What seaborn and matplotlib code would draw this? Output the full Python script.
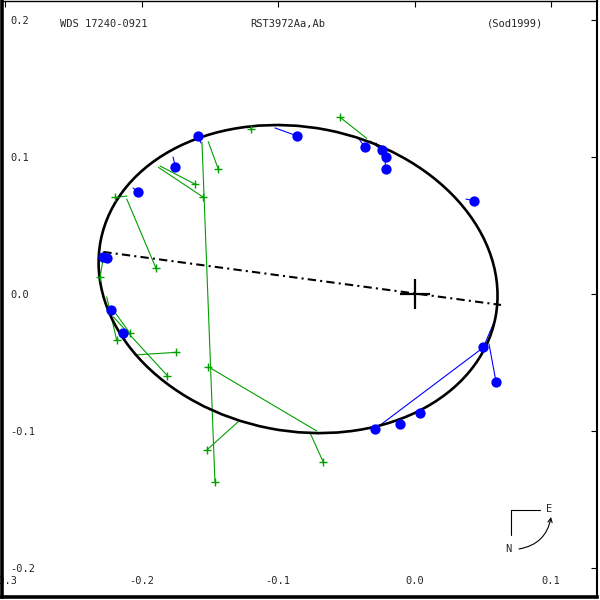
import numpy as np
import pandas as pd
import matplotlib
matplotlib.use("Agg")
import matplotlib.pyplot as plt
from matplotlib.patches import Ellipse
import seaborn as sns

# ---------------- data ----------------
xticks = [-0.3, -0.2, -0.1, 0.0, 0.1]
xtick_labels = ["-0.3", "-0.2", "-0.1", "0.0", "0.1"]
yticks = [-0.2, -0.1, 0.0, 0.1, 0.2]
ytick_labels = ["-0.2", "-0.1", "0.0", "0.1", "0.2"]

# apparent orbit (ellipse) parameters
orbit_center = (-0.0853, 0.0109)
orbit_axes = (0.1473, 0.1109)     # semi-major, semi-minor
orbit_angle = -11.0               # degrees

# line of nodes end points
nodes_x = [-0.2280, 0.0634]
nodes_y = [0.0307, -0.0080]

# blue (micrometric/interferometric) observations and their computed positions
blue_obs_x = [-0.0863, -0.1588, -0.1752, -0.2028, -0.2280, -0.2255, -0.2223, -0.2139,
              -0.0363, -0.0240, -0.0211, -0.0211, 0.0436, 0.0504, 0.0597, 0.0040,
              -0.0106, -0.0289]
blue_obs_y = [0.1155, 0.1153, 0.0929, 0.0747, 0.0272, 0.0261, -0.0117, -0.0287,
              0.1071, 0.1051, 0.0998, 0.0912, 0.0681, -0.0389, -0.0640, -0.0871,
              -0.0951, -0.0985]
blue_fit_x = [-0.1022, -0.1564, -0.1769, -0.2062, -0.2289, -0.2289, -0.2238, -0.2106,
              -0.0414, -0.0326, -0.0282, -0.0223, 0.0377, 0.0590, 0.0546, 0.0055,
              -0.0121, 0.0509]
blue_fit_y = [0.1212, 0.1102, 0.1000, 0.0774, 0.0263, 0.0234, -0.0102, -0.0372,
              0.1142, 0.1117, 0.1102, 0.1073, 0.0693, -0.0190, -0.0365, -0.0839,
              -0.0912, -0.0387]

# green (visual) observations and their computed positions
green_obs_x = [-0.2194, -0.1894, -0.2304, -0.2182, -0.2084, -0.1811, -0.1749, -0.1511,
               -0.0668, -0.1522, -0.1462, -0.1437, -0.1610, -0.1547, -0.0546, -0.1200]
green_obs_y = [0.0706, 0.0188, 0.0124, -0.0336, -0.0287, -0.0596, -0.0426, -0.0531,
               -0.1228, -0.1139, -0.1370, 0.0910, 0.0803, 0.0706, 0.1290, 0.1202]
green_fit_x = [-0.2106, -0.2108, -0.2282, -0.2255, -0.2207, -0.2207, -0.2048, -0.0716,
               -0.0766, -0.1291, -0.1557, -0.1511, -0.1864, -0.1877, -0.0350, -0.1198]
green_fit_y = [0.0715, 0.0693, 0.0248, -0.0020, -0.0117, -0.0166, -0.0445, -0.1000,
               -0.1012, -0.0932, 0.1109, 0.1112, 0.0934, 0.0925, 0.1136, 0.1212]

title_left = "WDS 17240-0921"
title_mid = "RST3972Aa,Ab"
title_right = "(Sod1999)"

BLUE = "#0000ff"
GREEN = "#00a000"

# ---------------- figure ----------------
sns.set_style("white")
plt.rcParams["font.family"] = ["DejaVu Sans Mono", "DejaVu Sans"]
plt.rcParams["font.size"] = 7.5
plt.rcParams["lines.scale_dashes"] = False

fig = plt.figure(figsize=(6, 6), dpi=100)
ax = fig.add_axes([2 / 600, 3 / 600, 595 / 600, 596.5 / 600])
ax.set_xlim(-0.30220, 0.13370)
ax.set_ylim(-0.22117, 0.21423)

# residual lines
for ox, oy, fx, fy in zip(green_obs_x, green_obs_y, green_fit_x, green_fit_y):
    ax.plot([ox, fx], [oy, fy], color=GREEN, lw=0.8, zorder=2)
for ox, oy, fx, fy in zip(blue_obs_x, blue_obs_y, blue_fit_x, blue_fit_y):
    ax.plot([ox, fx], [oy, fy], color=BLUE, lw=0.8, zorder=2)

# orbit
ell = Ellipse(orbit_center, 2 * orbit_axes[0], 2 * orbit_axes[1], angle=orbit_angle,
              fill=False, edgecolor="black", lw=1.9, zorder=3)
ax.add_patch(ell)

# line of nodes
ax.plot(nodes_x, nodes_y, color="black", lw=1.5, dashes=[6, 3, 1.5, 3], zorder=3)

# primary
ax.plot([0.0], [0.0], marker="+", color="black", markersize=22, mew=1.6, zorder=4)

# observations
green_df = pd.DataFrame({"x": green_obs_x, "y": green_obs_y})
blue_df = pd.DataFrame({"x": blue_obs_x, "y": blue_obs_y})
sns.scatterplot(data=green_df, x="x", y="y", marker="+", s=40, color=GREEN,
                linewidth=1.0, ax=ax, zorder=5)
sns.scatterplot(data=blue_df, x="x", y="y", marker="o", s=55, color=BLUE,
                edgecolor=BLUE, linewidth=0, ax=ax, zorder=6)

ax.set_xlabel("")
ax.set_ylabel("")

# ticks
ax.set_xticks(xticks)
ax.set_xticklabels(xtick_labels)
ax.set_yticks(yticks)
ax.set_yticklabels(ytick_labels)
ax.tick_params(axis="both", direction="in", length=4, width=0.8, color="black",
               top=True, right=True, labelsize=7.5)
ax.tick_params(axis="x", pad=-15)
ax.tick_params(axis="y", pad=-6)
for lab in ax.get_yticklabels():
    lab.set_horizontalalignment("left")

for side, lw in (("left", 2.6), ("bottom", 2.6), ("right", 1.5), ("top", 1.0)):
    ax.spines[side].set_visible(True)
    ax.spines[side].set_linewidth(lw)
    ax.spines[side].set_color("black")

# header texts (figure pixels)
fig.text(60 / 600, 1 - 24 / 600, title_left, ha="left", va="center", fontsize=7.5)
fig.text(250 / 600, 1 - 24 / 600, title_mid, ha="left", va="center", fontsize=7.5)
fig.text(487 / 600, 1 - 24 / 600, title_right, ha="left", va="center", fontsize=7.5)

# compass
H = 600
fig.add_artist(plt.Line2D([511 / 600, 540 / 600], [1 - 510 / H, 1 - 510 / H],
                          color="black", lw=0.8, transform=fig.transFigure))
fig.add_artist(plt.Line2D([511 / 600, 511 / 600], [1 - 510 / H, 1 - 535 / H],
                          color="black", lw=0.8, transform=fig.transFigure))
fig.text(549 / 600, 1 - 509 / H, "E", ha="center", va="center", fontsize=7.5)
fig.text(508 / 600, 1 - 549 / H, "N", ha="center", va="center", fontsize=7.5)
ax.annotate("", xy=(551, H - 517), xycoords="figure pixels",
            xytext=(519, H - 549), textcoords="figure pixels",
            arrowprops=dict(arrowstyle="->", color="black", lw=0.8,
                            connectionstyle="arc3,rad=0.35",
                            shrinkA=0, shrinkB=0))

fig.savefig("out.png", dpi=100)
